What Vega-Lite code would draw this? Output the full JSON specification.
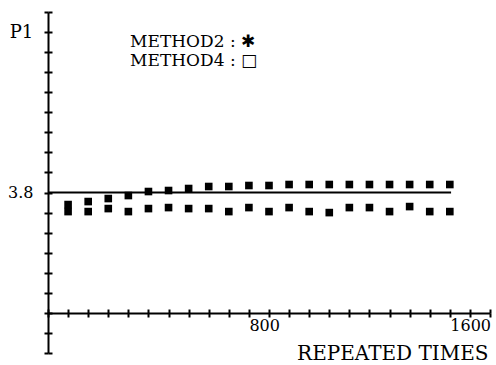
{
  "$schema": "https://vega.github.io/schema/vega-lite/v6.json",
  "width": 442,
  "height": 341,
  "autosize": {"type": "none"},
  "padding": {"left": 48, "top": 12, "right": 6, "bottom": 12},
  "background": "white",
  "config": {"view": {"stroke": null}, "font": "DejaVu Serif"},
  "datasets": {
    "points": [
      {"t": 80, "method": "METHOD2", "p1": 3.74},
      {"t": 160, "method": "METHOD2", "p1": 3.755},
      {"t": 240, "method": "METHOD2", "p1": 3.77},
      {"t": 320, "method": "METHOD2", "p1": 3.785},
      {"t": 400, "method": "METHOD2", "p1": 3.805},
      {"t": 480, "method": "METHOD2", "p1": 3.81},
      {"t": 560, "method": "METHOD2", "p1": 3.82},
      {"t": 640, "method": "METHOD2", "p1": 3.83},
      {"t": 720, "method": "METHOD2", "p1": 3.83},
      {"t": 800, "method": "METHOD2", "p1": 3.835},
      {"t": 880, "method": "METHOD2", "p1": 3.835},
      {"t": 960, "method": "METHOD2", "p1": 3.84},
      {"t": 1040, "method": "METHOD2", "p1": 3.84},
      {"t": 1120, "method": "METHOD2", "p1": 3.84},
      {"t": 1200, "method": "METHOD2", "p1": 3.84},
      {"t": 1280, "method": "METHOD2", "p1": 3.84},
      {"t": 1360, "method": "METHOD2", "p1": 3.84},
      {"t": 1440, "method": "METHOD2", "p1": 3.84},
      {"t": 1520, "method": "METHOD2", "p1": 3.84},
      {"t": 1600, "method": "METHOD2", "p1": 3.84},
      {"t": 80, "method": "METHOD4", "p1": 3.705},
      {"t": 160, "method": "METHOD4", "p1": 3.705},
      {"t": 240, "method": "METHOD4", "p1": 3.72},
      {"t": 320, "method": "METHOD4", "p1": 3.705},
      {"t": 400, "method": "METHOD4", "p1": 3.72},
      {"t": 480, "method": "METHOD4", "p1": 3.725},
      {"t": 560, "method": "METHOD4", "p1": 3.72},
      {"t": 640, "method": "METHOD4", "p1": 3.72},
      {"t": 720, "method": "METHOD4", "p1": 3.705},
      {"t": 800, "method": "METHOD4", "p1": 3.725},
      {"t": 880, "method": "METHOD4", "p1": 3.705},
      {"t": 960, "method": "METHOD4", "p1": 3.725},
      {"t": 1040, "method": "METHOD4", "p1": 3.705},
      {"t": 1120, "method": "METHOD4", "p1": 3.70},
      {"t": 1200, "method": "METHOD4", "p1": 3.725},
      {"t": 1280, "method": "METHOD4", "p1": 3.725},
      {"t": 1360, "method": "METHOD4", "p1": 3.705},
      {"t": 1440, "method": "METHOD4", "p1": 3.73},
      {"t": 1520, "method": "METHOD4", "p1": 3.705},
      {"t": 1600, "method": "METHOD4", "p1": 3.705}
    ],
    "ref": [{"t": 0, "t2": 1605, "p1": 3.8}],
    "legend": [
      {"t": 327, "p1": 4.525, "label": "METHOD2  :  ✱"},
      {"t": 327, "p1": 4.43, "label": "METHOD4  :  □"}
    ]
  },
  "layer": [
    {
      "data": {"name": "points"},
      "mark": {"type": "point", "shape": "square", "filled": true, "color": "black", "size": 58, "opacity": 1},
      "encoding": {
        "x": {
          "field": "t", "type": "quantitative",
          "scale": {"domain": [0, 1760], "nice": false, "zero": false},
          "axis": {
            "orient": "bottom", "offset": -40,
            "values": [0, 80, 160, 240, 320, 400, 480, 560, 640, 720, 800, 880, 960, 1040, 1120, 1200, 1280, 1360, 1440, 1520, 1600, 1680, 1760],
            "format": "d",
            "tickSize": 4, "tickWidth": 2, "tickColor": "black",
            "domainColor": "black", "domainWidth": 2,
            "labelExpr": "datum.value == 800 || datum.value == 1600 ? datum.label : ''",
            "labelAlign": "left", "labelDx": -3, "labelFont": "DejaVu Serif", "labelFontSize": 16, "labelColor": "black",
            "labelPadding": 0, "labelOverlap": false, "labelFlush": false,
            "grid": false,
            "title": "REPEATED TIMES", "titleFont": "DejaVu Serif", "titleFontSize": 20, "titleFontWeight": "normal", "titleColor": "black",
            "titleAnchor": "end", "titleAlign": "right", "titleX": 440, "titleY": 46, "titleBaseline": "alphabetic"
          }
        },
        "y": {
          "field": "p1", "type": "quantitative",
          "scale": {"domain": [3.0, 4.7], "nice": false, "zero": false},
          "axis": {
            "orient": "left",
            "values": [3.0, 3.1, 3.2, 3.3, 3.4, 3.5, 3.6, 3.7, 3.8, 3.9, 4.0, 4.1, 4.2, 4.3, 4.4, 4.5, 4.6, 4.7],
            "tickSize": 4, "tickWidth": 2, "tickColor": "black",
            "domainColor": "black", "domainWidth": 2,
            "labelExpr": "abs(datum.value - 3.8) < 0.001 ? '3.8' : ''",
            "labelFont": "DejaVu Serif", "labelFontSize": 16, "labelColor": "black", "labelPadding": 11,
            "labelOverlap": false, "labelFlush": false,
            "grid": false,
            "title": "P1", "titleAngle": 0, "titleFont": "DejaVu Serif", "titleFontSize": 18, "titleFontWeight": "normal", "titleColor": "black",
            "titleX": -27, "titleY": 25, "titleAlign": "center", "titleBaseline": "alphabetic"
          }
        }
      }
    },
    {
      "data": {"name": "ref"},
      "mark": {"type": "rule", "color": "black", "strokeWidth": 2},
      "encoding": {
        "x": {
          "field": "t", "type": "quantitative",
          "axis": {
            "orient": "bottom", "offset": -44,
            "values": [0, 80, 160, 240, 320, 400, 480, 560, 640, 720, 800, 880, 960, 1040, 1120, 1200, 1280, 1360, 1440, 1520, 1600, 1680, 1760],
            "tickSize": 4, "tickWidth": 2, "tickColor": "black",
            "domain": false, "labels": false, "grid": false, "title": null
          }
        },
        "x2": {"field": "t2"},
        "y": {
          "field": "p1", "type": "quantitative",
          "axis": {
            "orient": "left", "offset": -4,
            "values": [3.0, 3.1, 3.2, 3.3, 3.4, 3.5, 3.6, 3.7, 3.8, 3.9, 4.0, 4.1, 4.2, 4.3, 4.4, 4.5, 4.6, 4.7],
            "tickSize": 4, "tickWidth": 2, "tickColor": "black",
            "domain": false, "labels": false, "grid": false, "title": null
          }
        }
      }
    },
    {
      "data": {"name": "legend"},
      "mark": {"type": "text", "align": "left", "baseline": "alphabetic", "fontSize": 17, "font": "DejaVu Serif", "color": "black"},
      "encoding": {
        "x": {"field": "t", "type": "quantitative", "axis": null},
        "y": {"field": "p1", "type": "quantitative", "axis": null},
        "text": {"field": "label"}
      }
    }
  ],
  "resolve": {"axis": {"x": "independent", "y": "independent"}}
}
